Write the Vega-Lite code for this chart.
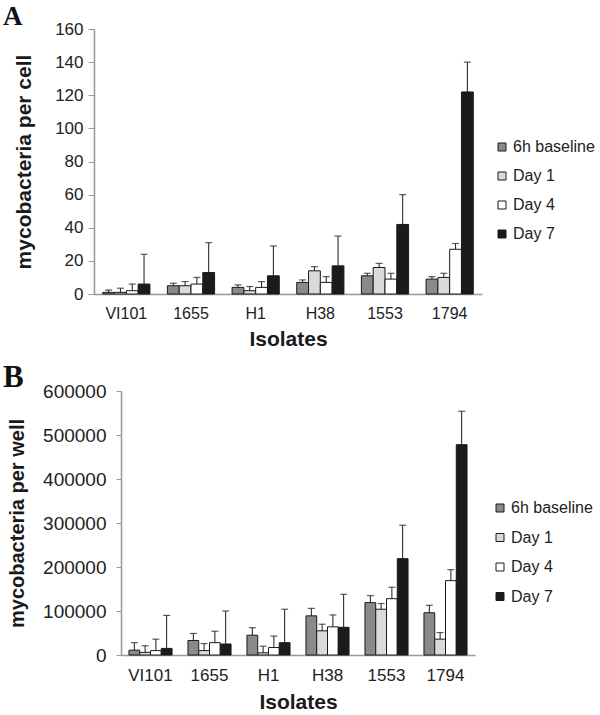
{
  "$schema": "https://vega.github.io/schema/vega-lite/v6.json",
  "padding": {"left": 3, "top": 3, "right": 0, "bottom": 0},
  "background": "white",
  "config": {
    "view": {"stroke": null},
    "font": "Liberation Sans",
    "legend": {"padding": 0}
  },
  "datasets": {
    "A": [
      {"isolate": "VI101", "series": "6h baseline", "value": 1, "upper": 2.4},
      {"isolate": "VI101", "series": "Day 1", "value": 1, "upper": 3.5},
      {"isolate": "VI101", "series": "Day 4", "value": 2, "upper": 6},
      {"isolate": "VI101", "series": "Day 7", "value": 6, "upper": 24},
      {"isolate": "1655", "series": "6h baseline", "value": 5, "upper": 6.5},
      {"isolate": "1655", "series": "Day 1", "value": 5, "upper": 7.5},
      {"isolate": "1655", "series": "Day 4", "value": 6, "upper": 10},
      {"isolate": "1655", "series": "Day 7", "value": 13, "upper": 31},
      {"isolate": "H1", "series": "6h baseline", "value": 4, "upper": 5.5},
      {"isolate": "H1", "series": "Day 1", "value": 2, "upper": 4.5},
      {"isolate": "H1", "series": "Day 4", "value": 4, "upper": 7.5},
      {"isolate": "H1", "series": "Day 7", "value": 11, "upper": 29},
      {"isolate": "H38", "series": "6h baseline", "value": 7, "upper": 8.5},
      {"isolate": "H38", "series": "Day 1", "value": 14, "upper": 16.5},
      {"isolate": "H38", "series": "Day 4", "value": 7, "upper": 10.5},
      {"isolate": "H38", "series": "Day 7", "value": 17, "upper": 35},
      {"isolate": "1553", "series": "6h baseline", "value": 11, "upper": 12.5},
      {"isolate": "1553", "series": "Day 1", "value": 16, "upper": 18.5},
      {"isolate": "1553", "series": "Day 4", "value": 9, "upper": 12.5},
      {"isolate": "1553", "series": "Day 7", "value": 42, "upper": 60},
      {"isolate": "1794", "series": "6h baseline", "value": 9, "upper": 10.5},
      {"isolate": "1794", "series": "Day 1", "value": 10, "upper": 12.5},
      {"isolate": "1794", "series": "Day 4", "value": 27, "upper": 30.5},
      {"isolate": "1794", "series": "Day 7", "value": 122, "upper": 140}
    ],
    "B": [
      {"isolate": "VI101", "series": "6h baseline", "value": 11000, "upper": 28000},
      {"isolate": "VI101", "series": "Day 1", "value": 6000, "upper": 21000},
      {"isolate": "VI101", "series": "Day 4", "value": 10000, "upper": 36000},
      {"isolate": "VI101", "series": "Day 7", "value": 15000, "upper": 90000},
      {"isolate": "1655", "series": "6h baseline", "value": 33000, "upper": 49000},
      {"isolate": "1655", "series": "Day 1", "value": 10000, "upper": 26000},
      {"isolate": "1655", "series": "Day 4", "value": 28000, "upper": 54000},
      {"isolate": "1655", "series": "Day 7", "value": 25000, "upper": 100000},
      {"isolate": "H1", "series": "6h baseline", "value": 45000, "upper": 62000},
      {"isolate": "H1", "series": "Day 1", "value": 5000, "upper": 20000},
      {"isolate": "H1", "series": "Day 4", "value": 17000, "upper": 43000},
      {"isolate": "H1", "series": "Day 7", "value": 28000, "upper": 104000},
      {"isolate": "H38", "series": "6h baseline", "value": 89000, "upper": 106000},
      {"isolate": "H38", "series": "Day 1", "value": 55000, "upper": 70000},
      {"isolate": "H38", "series": "Day 4", "value": 64000, "upper": 91000},
      {"isolate": "H38", "series": "Day 7", "value": 63000, "upper": 138000},
      {"isolate": "1553", "series": "6h baseline", "value": 119000, "upper": 135000},
      {"isolate": "1553", "series": "Day 1", "value": 104000, "upper": 117000},
      {"isolate": "1553", "series": "Day 4", "value": 128000, "upper": 154000},
      {"isolate": "1553", "series": "Day 7", "value": 219000, "upper": 295000},
      {"isolate": "1794", "series": "6h baseline", "value": 96000, "upper": 113000},
      {"isolate": "1794", "series": "Day 1", "value": 36000, "upper": 51000},
      {"isolate": "1794", "series": "Day 4", "value": 169000, "upper": 194000},
      {"isolate": "1794", "series": "Day 7", "value": 478000, "upper": 554000}
    ],
    "empty": []
  },
  "resolve": {
    "scale": {"x": "independent", "y": "independent", "color": "independent", "xOffset": "independent"},
    "legend": {"color": "independent"}
  },
  "spacing": 13,
  "vconcat": [
    {
      "title": {"text": "A", "font": "Liberation Serif", "fontSize": 27, "fontWeight": "bold", "color": "#111", "anchor": "start", "frame": "group", "dx": -91, "offset": -11},
      "width": 388,
      "height": 265,
      "data": {"name": "A"},
      "encoding": {
        "x": {
          "field": "isolate", "type": "nominal",
          "sort": ["VI101", "1655", "H1", "H38", "1553", "1794"],
          "scale": {"paddingInner": 0.27, "paddingOuter": 0.135},
          "axis": {"title": "Isolates", "titleFontSize": 21, "titleFontWeight": "bold", "titleColor": "#1a1a1a", "titlePadding": 7, "labelAngle": 0, "ticks": false, "labelPadding": 11, "labelFontSize": 16, "labelColor": "#222", "domainColor": "#999", "domainWidth": 1.5}
        },
        "xOffset": {"field": "series", "type": "nominal", "sort": ["6h baseline", "Day 1", "Day 4", "Day 7"]}
      },
      "layer": [
        {
          "mark": {"type": "bar", "stroke": "#1a1a1a", "strokeWidth": 1},
          "encoding": {
            "y": {"field": "value", "type": "quantitative", "scale": {"domain": [0, 160]},
              "axis": {"title": "mycobacteria per cell", "titleFontSize": 21, "titleFontWeight": "bold", "titleColor": "#1a1a1a", "titlePadding": 20, "values": [0, 20, 40, 60, 80, 100, 120, 140, 160], "labelOverlap": false, "labelFontSize": 17, "labelColor": "#222", "labelPadding": 5, "tickSize": 6, "tickColor": "#999", "domainColor": "#999", "domainWidth": 1.5, "grid": false}},
            "color": {"field": "series", "type": "nominal",
              "scale": {"domain": ["6h baseline", "Day 1", "Day 4", "Day 7"], "range": ["#8a8a8c", "#d9dadb", "#ffffff", "#1c1a1b"]},
              "legend": {"orient": "none", "legendX": 400, "legendY": 110, "title": null, "symbolType": "square", "symbolSize": 64, "symbolStrokeColor": "#1a1a1a", "symbolStrokeWidth": 1, "labelFontSize": 16, "labelColor": "#222", "rowPadding": 13, "labelOffset": 3}}
          }
        },
        {
          "mark": {"type": "rule", "color": "#1a1a1a", "strokeWidth": 1},
          "encoding": {
            "y": {"field": "value", "type": "quantitative",
              "axis": {"title": "mycobacteria per cell", "titleFontSize": 21, "titleFontWeight": "bold", "titleColor": "#1a1a1a", "titlePadding": 20, "values": [0, 20, 40, 60, 80, 100, 120, 140, 160], "labelOverlap": false, "labelFontSize": 17, "labelColor": "#222", "labelPadding": 5, "tickSize": 6, "tickColor": "#999", "domainColor": "#999", "domainWidth": 1.5, "grid": false}},
            "y2": {"field": "upper"}}
        },
        {
          "mark": {"type": "tick", "color": "#1a1a1a", "size": 7, "thickness": 1.2},
          "encoding": {
            "y": {"field": "upper", "type": "quantitative",
              "axis": {"title": "mycobacteria per cell", "titleFontSize": 21, "titleFontWeight": "bold", "titleColor": "#1a1a1a", "titlePadding": 20, "values": [0, 20, 40, 60, 80, 100, 120, 140, 160], "labelOverlap": false, "labelFontSize": 17, "labelColor": "#222", "labelPadding": 5, "tickSize": 6, "tickColor": "#999", "domainColor": "#999", "domainWidth": 1.5, "grid": false}}}
        }
      ]
    },
    {
      "bounds": "flush",
      "spacing": 10,
      "resolve": {
        "scale": {"x": "independent", "y": "independent", "color": "independent", "xOffset": "independent"},
        "legend": {"color": "independent"}
      },
      "hconcat": [
        {
          "width": 17,
          "height": 10,
          "data": {"name": "empty"},
          "mark": {"type": "point", "opacity": 0},
          "encoding": {}
        },
        {
          "title": {"text": "B", "font": "Liberation Serif", "fontSize": 31, "fontWeight": "bold", "color": "#111", "anchor": "start", "frame": "group", "dx": -118, "offset": -12},
          "width": 354,
          "height": 264,
          "data": {"name": "B"},
          "encoding": {
            "x": {
              "field": "isolate", "type": "nominal",
              "sort": ["VI101", "1655", "H1", "H38", "1553", "1794"],
              "scale": {"paddingInner": 0.27, "paddingOuter": 0.135},
              "axis": {"title": "Isolates", "titleFontSize": 21, "titleFontWeight": "bold", "titleColor": "#1a1a1a", "titlePadding": 8, "labelAngle": 0, "ticks": false, "labelPadding": 12, "labelFontSize": 17, "labelColor": "#222", "domainColor": "#999", "domainWidth": 1.5}
            },
            "xOffset": {"field": "series", "type": "nominal", "sort": ["6h baseline", "Day 1", "Day 4", "Day 7"]}
          },
          "layer": [
            {
              "mark": {"type": "bar", "stroke": "#1a1a1a", "strokeWidth": 1},
              "encoding": {
                "y": {"field": "value", "type": "quantitative", "scale": {"domain": [0, 600000]},
                  "axis": {"title": "mycobacteria per well", "titleFontSize": 20, "titleFontWeight": "bold", "titleColor": "#1a1a1a", "titlePadding": 15, "values": [0, 100000, 200000, 300000, 400000, 500000, 600000], "format": "d", "labelOverlap": false, "labelFontSize": 19, "labelColor": "#222", "labelPadding": 10, "tickSize": 5, "tickColor": "#999", "domainColor": "#999", "domainWidth": 1.5, "grid": false}},
                "color": {"field": "series", "type": "nominal",
                  "scale": {"domain": ["6h baseline", "Day 1", "Day 4", "Day 7"], "range": ["#8a8a8c", "#d9dadb", "#ffffff", "#1c1a1b"]},
                  "legend": {"orient": "none", "legendX": 371, "legendY": 109, "title": null, "symbolType": "square", "symbolSize": 64, "symbolStrokeColor": "#1a1a1a", "symbolStrokeWidth": 1, "labelFontSize": 16, "labelColor": "#222", "rowPadding": 13.5, "labelOffset": 3}}
              }
            },
            {
              "mark": {"type": "rule", "color": "#1a1a1a", "strokeWidth": 1},
              "encoding": {
                "y": {"field": "value", "type": "quantitative",
                  "axis": {"title": "mycobacteria per well", "titleFontSize": 20, "titleFontWeight": "bold", "titleColor": "#1a1a1a", "titlePadding": 15, "values": [0, 100000, 200000, 300000, 400000, 500000, 600000], "format": "d", "labelOverlap": false, "labelFontSize": 19, "labelColor": "#222", "labelPadding": 10, "tickSize": 5, "tickColor": "#999", "domainColor": "#999", "domainWidth": 1.5, "grid": false}},
                "y2": {"field": "upper"}}
            },
            {
              "mark": {"type": "tick", "color": "#1a1a1a", "size": 7, "thickness": 1.2},
              "encoding": {
                "y": {"field": "upper", "type": "quantitative",
                  "axis": {"title": "mycobacteria per well", "titleFontSize": 20, "titleFontWeight": "bold", "titleColor": "#1a1a1a", "titlePadding": 15, "values": [0, 100000, 200000, 300000, 400000, 500000, 600000], "format": "d", "labelOverlap": false, "labelFontSize": 19, "labelColor": "#222", "labelPadding": 10, "tickSize": 5, "tickColor": "#999", "domainColor": "#999", "domainWidth": 1.5, "grid": false}}}
            }
          ]
        }
      ]
    }
  ]
}
